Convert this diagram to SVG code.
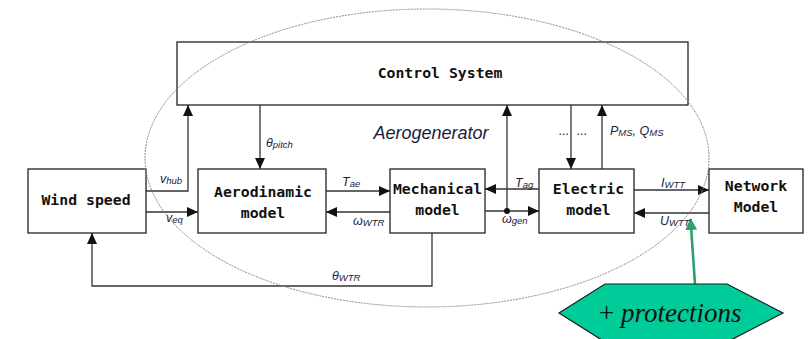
<svg xmlns="http://www.w3.org/2000/svg" width="808" height="339" viewBox="0 0 808 339">
  <defs>
    <marker id="arrow" markerUnits="userSpaceOnUse" markerWidth="11" markerHeight="10" refX="11" refY="5" orient="auto">
      <path d="M0,0 L11,5 L0,10 z" fill="#111"/>
    </marker>
    <marker id="arrow-green" markerUnits="userSpaceOnUse" markerWidth="12" markerHeight="12" refX="11" refY="6" orient="auto">
      <path d="M0,0 L12,6 L0,12 z" fill="#2e9e6e"/>
    </marker>
    <style>
      .box { fill: #fff; stroke: #222; stroke-width: 1.3; }
      .name { font-family: "DejaVu Sans Mono", "Liberation Mono", monospace; font-weight: bold; font-size: 14.8px; fill: #111; text-anchor: middle; }
      .wire { fill: none; stroke: #333; stroke-width: 1.3; }
      .sig { font-family: "Liberation Sans", Arial, sans-serif; font-style: italic; font-size: 12.5px; fill: #1c1c3c; }
      .sub { font-size: 9.5px; }
    </style>
  </defs>

  <rect width="808" height="339" fill="#fff"/>

  <!-- blocks -->
  <g id="control-system">
    <rect class="box" x="177" y="42" width="511" height="63"/>
    <text class="name" x="440" y="78">Control System</text>
  </g>
  <g id="wind-speed">
    <rect class="box" x="28" y="169" width="118" height="64"/>
    <text class="name" x="86" y="205">Wind speed</text>
  </g>
  <g id="aerodinamic-model">
    <rect class="box" x="198" y="169" width="128" height="64"/>
    <text class="name" x="263" y="197">Aerodinamic</text>
    <text class="name" x="263" y="218">model</text>
  </g>
  <g id="mechanical-model">
    <rect class="box" x="390" y="169" width="95" height="64"/>
    <text class="name" x="437.5" y="194">Mechanical</text>
    <text class="name" x="437.5" y="215">model</text>
  </g>
  <g id="electric-model">
    <rect class="box" x="539" y="169" width="95" height="64"/>
    <text class="name" x="588.5" y="194">Electric</text>
    <text class="name" x="588.5" y="215">model</text>
  </g>
  <g id="network-model">
    <rect class="box" x="709" y="169" width="94" height="64"/>
    <text class="name" x="756" y="191">Network</text>
    <text class="name" x="756" y="212">Model</text>
  </g>

  <!-- signal connectors -->
  <g id="connectors">
    <polyline class="wire" points="146,191 188,191 188,105" marker-end="url(#arrow)"/>
    <line class="wire" x1="146" y1="212" x2="198" y2="212" marker-end="url(#arrow)"/>
    <line class="wire" x1="260" y1="105" x2="260" y2="169" marker-end="url(#arrow)"/>
    <line class="wire" x1="326" y1="191" x2="390" y2="191" marker-end="url(#arrow)"/>
    <line class="wire" x1="390" y1="212" x2="326" y2="212" marker-end="url(#arrow)"/>
    <polyline class="wire" points="432,233 432,286 92,286 92,233" marker-end="url(#arrow)"/>
    <line class="wire" x1="539" y1="189" x2="485" y2="189" marker-end="url(#arrow)"/>
    <line class="wire" x1="485" y1="211" x2="539" y2="211" marker-end="url(#arrow)"/>
    <line class="wire" x1="507" y1="211" x2="507" y2="105" marker-end="url(#arrow)"/>
    <circle cx="507" cy="211" r="3" fill="#111"/>
    <line class="wire" x1="571" y1="105" x2="571" y2="169" marker-end="url(#arrow)"/>
    <line class="wire" x1="602" y1="169" x2="602" y2="105" marker-end="url(#arrow)"/>
    <line class="wire" x1="634" y1="190" x2="709" y2="190" marker-end="url(#arrow)"/>
    <line class="wire" x1="709" y1="213" x2="634" y2="213" marker-end="url(#arrow)"/>
    <line x1="695" y1="284" x2="690.5" y2="219" stroke="#2e9e6e" stroke-width="2.6" marker-end="url(#arrow-green)"/>
  </g>

  <!-- signal labels -->
  <g id="labels">
    <text class="sig" x="160" y="183">v<tspan class="sub" dy="1">hub</tspan></text>
    <text class="sig" x="166" y="222">v<tspan class="sub" dy="1">eq</tspan></text>
    <text class="sig" x="266" y="147">θ<tspan class="sub" dy="1">pitch</tspan></text>
    <text class="sig" x="342" y="186">T<tspan class="sub" dy="1">ae</tspan></text>
    <text class="sig" x="353" y="225">ω<tspan class="sub" dy="1">WTR</tspan></text>
    <text class="sig" x="332" y="280">θ<tspan class="sub" dy="1">WTR</tspan></text>
    <text class="sig" x="515" y="187">T<tspan class="sub" dy="1">ag</tspan></text>
    <text class="sig" x="502" y="223">ω<tspan class="sub" dy="1">gen</tspan></text>
    <text class="sig" x="559" y="135">...<tspan x="577">...</tspan></text>
    <text class="sig" x="610" y="135">P<tspan class="sub" dy="1">MS</tspan><tspan dy="-1">, Q</tspan><tspan class="sub" dy="1">MS</tspan></text>
    <text class="sig" x="661" y="187">I<tspan class="sub" dy="1">WTT</tspan></text>
    <text class="sig" x="660" y="225">U<tspan class="sub" dy="1">WTT</tspan></text>
    <text x="431" y="139" font-family="Liberation Sans, Arial, sans-serif" font-style="italic" font-size="18" fill="#1c1c3c" text-anchor="middle">Aerogenerator</text>
  </g>

  <!-- aerogenerator boundary -->
  <ellipse id="aerogenerator" cx="427" cy="158" rx="282" ry="149" fill="none" stroke="#8a8a8a" stroke-width="1" stroke-dasharray="2 1"/>

  <g id="protections">
    <polygon points="605,284 727,284 783,313 727,342 605,342 559,313" fill="#00cc99" stroke="#1a1a1a" stroke-width="1.2"/>
    <text x="599" y="322" font-family="Liberation Serif, 'Times New Roman', serif" font-size="27" fill="#111">+ <tspan font-style="italic">protections</tspan></text>
  </g>
</svg>
